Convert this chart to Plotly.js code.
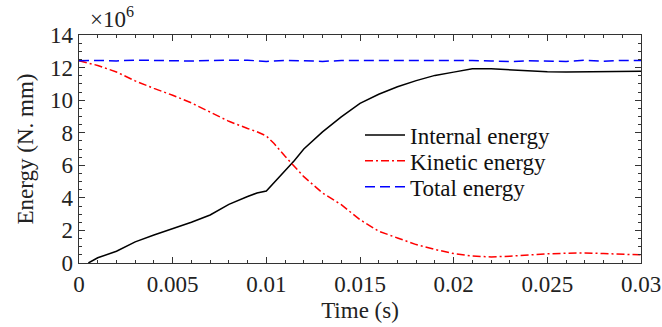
<!DOCTYPE html>
<html>
<head>
<meta charset="utf-8">
<script src="https://cdn.plot.ly/plotly-3.0.1.min.js"></script>
<style>html,body{margin:0;padding:0;background:#fff}#chart{width:662px;height:327px}</style>
</head>
<body>
<div id="chart"></div>
<script>
// Time (s)
const timeInternal = [0.0005, 0.001, 0.002, 0.003, 0.004, 0.005, 0.006, 0.007, 0.008, 0.009, 0.0095, 0.010, 0.0105, 0.011, 0.0115, 0.012, 0.013, 0.014, 0.015, 0.016, 0.017, 0.018, 0.019, 0.020, 0.021, 0.022, 0.023, 0.024, 0.025, 0.026, 0.027, 0.028, 0.029, 0.030];
const internalEnergy = [0.0, 0.32, 0.72, 1.3, 1.72, 2.1, 2.5, 2.95, 3.6, 4.08, 4.3, 4.42, 5.05, 5.65, 6.3, 7.0, 8.05, 8.97, 9.8, 10.36, 10.82, 11.2, 11.52, 11.72, 11.93, 11.93, 11.87, 11.82, 11.74, 11.73, 11.74, 11.75, 11.77, 11.78];
const timeKinetic = [0, 0.001, 0.002, 0.003, 0.004, 0.005, 0.006, 0.007, 0.008, 0.009, 0.0095, 0.010, 0.0104, 0.011, 0.012, 0.013, 0.014, 0.015, 0.016, 0.017, 0.018, 0.019, 0.020, 0.021, 0.022, 0.023, 0.024, 0.025, 0.026, 0.027, 0.028, 0.029, 0.030];
const kineticEnergy = [12.42, 12.13, 11.73, 11.18, 10.72, 10.3, 9.83, 9.28, 8.7, 8.26, 8.06, 7.8, 7.35, 6.55, 5.3, 4.3, 3.58, 2.66, 1.95, 1.54, 1.13, 0.83, 0.58, 0.43, 0.37, 0.42, 0.5, 0.56, 0.6, 0.62, 0.58, 0.53, 0.5];
const timeTotal = [0, 0.001, 0.002, 0.003, 0.004, 0.005, 0.006, 0.007, 0.008, 0.009, 0.010, 0.011, 0.012, 0.013, 0.014, 0.015, 0.016, 0.017, 0.018, 0.019, 0.020, 0.021, 0.022, 0.023, 0.024, 0.025, 0.026, 0.027, 0.028, 0.029, 0.030];
const totalEnergy = [12.42, 12.44, 12.41, 12.46, 12.44, 12.43, 12.4, 12.44, 12.43, 12.45, 12.38, 12.44, 12.42, 12.38, 12.43, 12.44, 12.43, 12.46, 12.44, 12.43, 12.45, 12.43, 12.41, 12.37, 12.42, 12.41, 12.38, 12.45, 12.39, 12.44, 12.44];
const seriesNames = ["Internal energy", "Kinetic energy", "Total energy"];
const xTickVals = [0, 0.005, 0.01, 0.015, 0.02, 0.025, 0.03];
const xTickText = ["0", "0.005", "0.01", "0.015", "0.02", "0.025", "0.03"];
const yTickVals = [0, 2, 4, 6, 8, 10, 12, 14];

const font = "'Liberation Serif', 'Times New Roman', serif";
const FS = 23;
const traces = [
  {x: timeInternal, y: internalEnergy, name: seriesNames[0], mode: "lines", legend: "legend", line: {color: "#000000", width: 1.5}},
  {x: timeKinetic, y: kineticEnergy, name: seriesNames[1], mode: "lines", legend: "legend2", line: {color: "#ff0000", width: 1.5, dash: "8px,3px,2px,3px"}},
  {x: timeTotal, y: totalEnergy, name: seriesNames[2], mode: "lines", legend: "legend3", line: {color: "#0000ff", width: 1.5, dash: "10px,5px"}}
];
const axisCommon = {
  showline: true, linecolor: "#333", linewidth: 1.3, mirror: "allticks",
  ticks: "inside", ticklen: 6, tickwidth: 1, tickcolor: "#333",
  showgrid: false, zeroline: false,
  tickfont: {family: font, size: FS, color: "#222"}
};
function leg(y) {
  return {x: 0.5, y: y, xanchor: "left", yanchor: "middle", itemwidth: 40, bgcolor: "rgba(0,0,0,0)",
          font: {family: font, size: FS, color: "#111"}};
}
const layout = {
  width: 662, height: 327,
  margin: {l: 79, r: 20.5, t: 34.5, b: 63.5},
  paper_bgcolor: "#fff", plot_bgcolor: "#fff",
  font: {family: font, size: FS, color: "#222"},
  showlegend: true,
  legend: leg(0.561), legend2: leg(0.448), legend3: leg(0.334),
  xaxis: Object.assign({}, axisCommon, {
    range: [0, 0.03], tickvals: xTickVals, ticktext: xTickText,
    minor: {dtick: 0.001, ticks: "inside", ticklen: 3, tickcolor: "#333"},
    title: {text: "Time (s)", font: {family: font, size: FS, color: "#222"}, standoff: 6}
  }),
  yaxis: Object.assign({}, axisCommon, {
    range: [0, 14], tickvals: yTickVals,
    minor: {dtick: 0.5, ticks: "inside", ticklen: 3, tickcolor: "#333"},
    title: {text: "Energy (N. mm)", font: {family: font, size: FS, color: "#222"}, standoff: 10}
  }),
  annotations: [{text: "×10<sup>6</sup>", xref: "paper", yref: "paper", x: 0, y: 1, xanchor: "left", yanchor: "bottom", xshift: 9, yshift: 1, showarrow: false, font: {family: font, size: FS, color: "#222"}}]
};
Plotly.newPlot("chart", traces, layout, {staticPlot: true});
</script>
</body>
</html>
